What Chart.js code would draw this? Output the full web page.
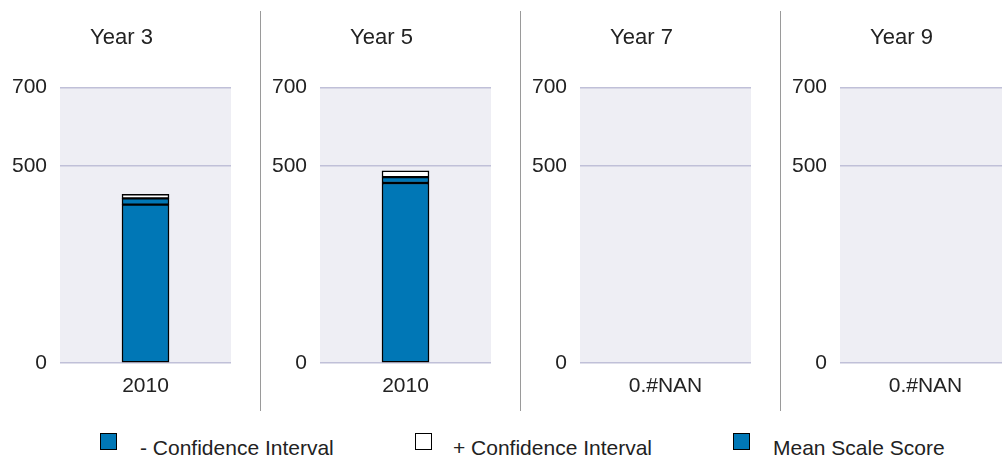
<!DOCTYPE html>
<html>
<head>
<meta charset="utf-8">
<script src="https://cdn.jsdelivr.net/npm/chart.js@4/dist/chart.umd.min.js"></script>
<style>
  html, body { margin: 0; padding: 0; background: #ffffff; }
  body { width: 1002px; height: 457px; overflow: hidden; position: relative; font-family: "Liberation Sans", Arial, sans-serif; }
  .panel { position: absolute; top: 0; width: 260px; height: 410px; }
  .sep { position: absolute; top: 11px; width: 1px; height: 400px; background: #9a9a9a; }
  .lg-box { position: absolute; top: 433px; width: 15px; height: 15px; border: 1px solid #000; }
  .lg-txt { position: absolute; top: 437px; font-size: 21px; line-height: 21px; color: #222; white-space: nowrap; }
</style>
</head>
<body>
<script>
// ---- data ----
const panelTitles = ['Year 3', 'Year 5', 'Year 7', 'Year 9'];
const panelCategories = [['2010'], ['2010'], ['0.#NAN'], ['0.#NAN']];
const meanScaleScore = [[402], [457], [null], [null]];
const minusConfidence = [[16], [15], [null], [null]];
const plusConfidence = [[10], [16], [null], [null]];
const yTickValues = [0, 500, 700];
const legendLabels = ['- Confidence Interval', '+ Confidence Interval', 'Mean Scale Score'];

// ---- styles ----
const BLUE = '#0077b6';
const TEXT = '#222222';
const FONT = '"Liberation Sans", Arial, sans-serif';

const plotBg = {
  id: 'plotBg',
  beforeDraw(chart) {
    const a = chart.chartArea, ctx = chart.ctx;
    ctx.save();
    ctx.fillStyle = '#eeeef4';
    ctx.fillRect(a.left, a.top, a.right - a.left, a.bottom - a.top);
    ctx.restore();
  }
};

panelTitles.forEach((title, i) => {
  const div = document.createElement('div');
  div.className = 'panel';
  div.style.left = (i * 260) + 'px';
  const cv = document.createElement('canvas');
  div.appendChild(cv);
  document.body.appendChild(div);
  if (i > 0) {
    const s = document.createElement('div');
    s.className = 'sep';
    s.style.left = (i * 260) + 'px';
    document.body.appendChild(s);
  }
  new Chart(cv, {
    type: 'bar',
    data: {
      labels: panelCategories[i],
      datasets: [
        { label: legendLabels[2], data: meanScaleScore[i], backgroundColor: BLUE },
        { label: legendLabels[0], data: minusConfidence[i], backgroundColor: BLUE },
        { label: legendLabels[1], data: plusConfidence[i], backgroundColor: '#ffffff' }
      ].map(d => Object.assign(d, { borderColor: '#000000', borderWidth: 1.5, barThickness: 47, borderSkipped: false }))
    },
    options: {
      responsive: true,
      maintainAspectRatio: false,
      animation: false,
      layout: { padding: { left: 12, right: 29, top: 0, bottom: 0 } },
      plugins: {
        legend: { display: false },
        tooltip: { enabled: false },
        title: {
          display: true, text: title, color: TEXT,
          font: { family: FONT, size: 22, weight: 'normal' },
          padding: { top: 25, bottom: 36 }
        }
      },
      scales: {
        x: {
          stacked: true,
          grid: { display: false, drawTicks: false },
          border: { display: false },
          ticks: { color: TEXT, font: { family: FONT, size: 21 }, padding: 11 }
        },
        y: {
          stacked: true,
          min: 0, max: 700,
          afterBuildTicks: (scale) => { scale.ticks = yTickValues.map(v => ({ value: v })); },
          afterFit: (scale) => { scale.width = 48; },
          grid: { color: '#c0c0d8', lineWidth: 1.5, drawTicks: false },
          border: { display: false },
          ticks: { color: TEXT, font: { family: FONT, size: 21 }, padding: 13 }
        }
      }
    },
    plugins: [plotBg]
  });
});

// legend
const legendItems = [
  { box: 100, txt: 140, fill: BLUE },
  { box: 415, txt: 453, fill: '#ffffff' },
  { box: 733, txt: 773, fill: BLUE }
];
legendItems.forEach((it, k) => {
  const b = document.createElement('div');
  b.className = 'lg-box';
  b.style.left = it.box + 'px';
  b.style.background = it.fill;
  document.body.appendChild(b);
  const t = document.createElement('div');
  t.className = 'lg-txt';
  t.style.left = it.txt + 'px';
  t.textContent = legendLabels[k];
  document.body.appendChild(t);
});
</script>
</body>
</html>
